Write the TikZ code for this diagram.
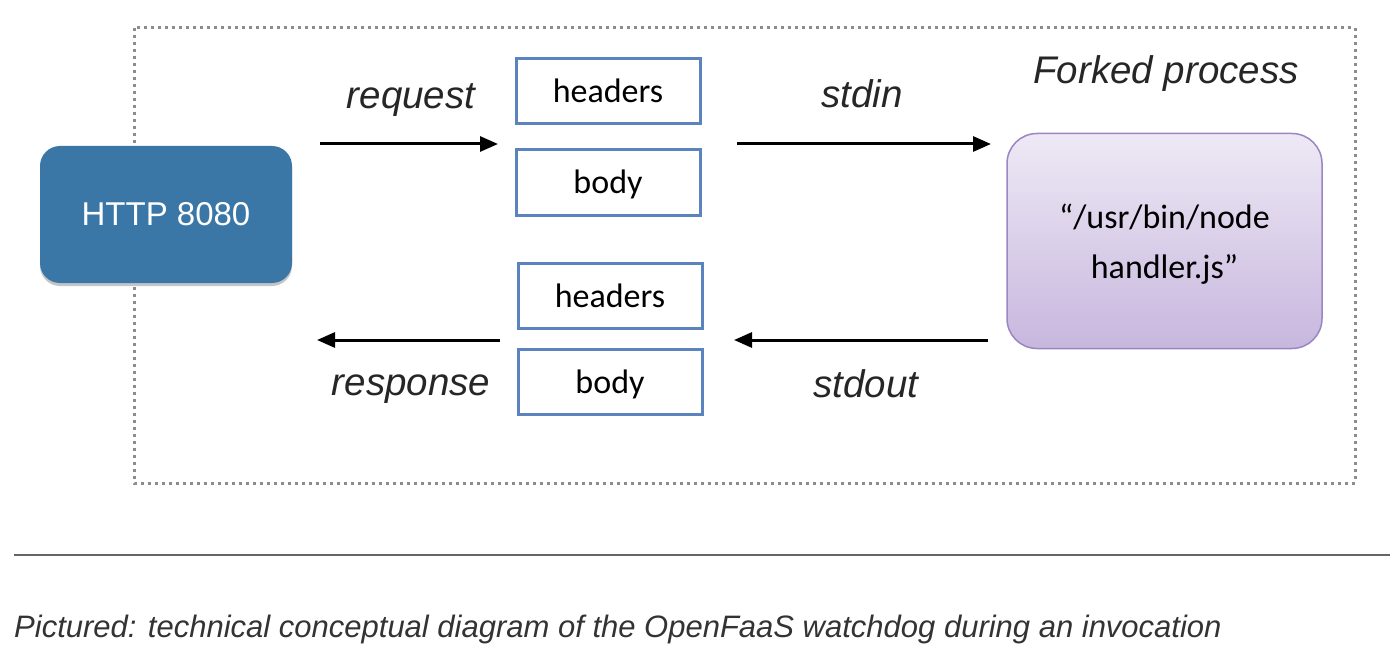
\documentclass[tikz,border=0pt]{standalone}
\usepackage{fontspec}
\setmainfont{Liberation Sans}
\newfontfamily\calfont{Carlito}
\newfontfamily\helvfont{Liberation Sans}
\usetikzlibrary{arrows.meta,shadows}
\definecolor{httpblue}{HTML}{3B77A6}
\definecolor{boxedge}{HTML}{5B83BD}
\definecolor{purtop}{HTML}{EEE9F5}
\definecolor{purbot}{HTML}{C7B7DE}
\definecolor{puredge}{HTML}{9A86C2}
\definecolor{dotgray}{HTML}{8C8C8C}
\definecolor{captext}{HTML}{333333}
\tikzset{
  httpbox/.style={rounded corners=20pt, fill=httpblue, draw=none,
    minimum width=252pt, minimum height=137pt, text=white,
    font=\helvfont\fontsize{33}{38}\selectfont,
    drop shadow={shadow xshift=0pt, shadow yshift=-3pt, fill=black!45, opacity=0.5}},
  partbox/.style={draw=boxedge, line width=3pt, fill=white,
    minimum width=184pt, minimum height=65pt, text depth=0.1em,
    font=\calfont\fontsize{34}{38}\selectfont},
  procbox/.style={rounded corners=30pt, draw=puredge, line width=1.5pt,
    top color=purtop, bottom color=purbot,
    minimum width=315pt, minimum height=215pt, align=center,
    font=\calfont\fontsize{34}{50}\selectfont},
  lbl/.style={font=\helvfont\itshape\fontsize{38.5}{42}\selectfont, text=black!85},
  flow/.style={line width=3pt, -{Triangle[length=18pt,width=15pt]}},
}
\begin{document}
\begin{tikzpicture}[x=1pt,y=-1pt]
\useasboundingbox (0,0) rectangle (1400,658);
% dotted border
\draw[dotgray, line width=3pt, dash pattern=on 3pt off 4pt] (134,28) rectangle (1355,483);
% nodes
\node[httpbox] (http) at (166,214.5) {HTTP 8080};
\node[partbox] (hreq) at (608,91) {headers};
\node[partbox] (breq) at (608,182.5) {body};
\node[partbox] (hres) at (610,296) {headers};
\node[partbox] (bres) at (610,382) {body};
\node[procbox] (proc) at (1164.5,241) {};
\node[align=center, font=\calfont\fontsize{34}{50}\selectfont] (proctxt) at ([yshift=-3pt]proc.center) {“/usr/bin/node\\handler.js”};
% labels
\node[lbl] (lreq) at (411,100) {request};
\node[lbl] (lstdin) at (862,94) {stdin};
\node[lbl] (lfork) at (1166,74) {Forked process};
\node[lbl] (lstdout) at (866,384) {stdout};
\node[lbl] (lresp) at (411,389) {response};
% arrow endpoints
\coordinate (reqS) at (320,144);
\coordinate (reqE) at (498,144);
\coordinate (inS) at (737,144);
\coordinate (inE) at (991,144);
\coordinate (outS) at (988,340);
\coordinate (outE) at (734,340);
\coordinate (resS) at (500,340);
\coordinate (resE) at (317,340);
\draw[flow] (reqS) -- (reqE);
\draw[flow] (inS) -- (inE);
\draw[flow] (outS) -- (outE);
\draw[flow] (resS) -- (resE);
% separator and caption
\coordinate (sepL) at (14,555);
\coordinate (sepR) at (1390,555);
\draw[black!60, line width=1.2pt] (sepL) -- (sepR);
\node[anchor=west, text=captext, font=\helvfont\itshape\fontsize{31}{36}\selectfont, inner sep=0pt] (cap) at (14,629) {Pictured: technical conceptual diagram of the OpenFaaS watchdog during an invocation};
\end{tikzpicture}
\end{document}
